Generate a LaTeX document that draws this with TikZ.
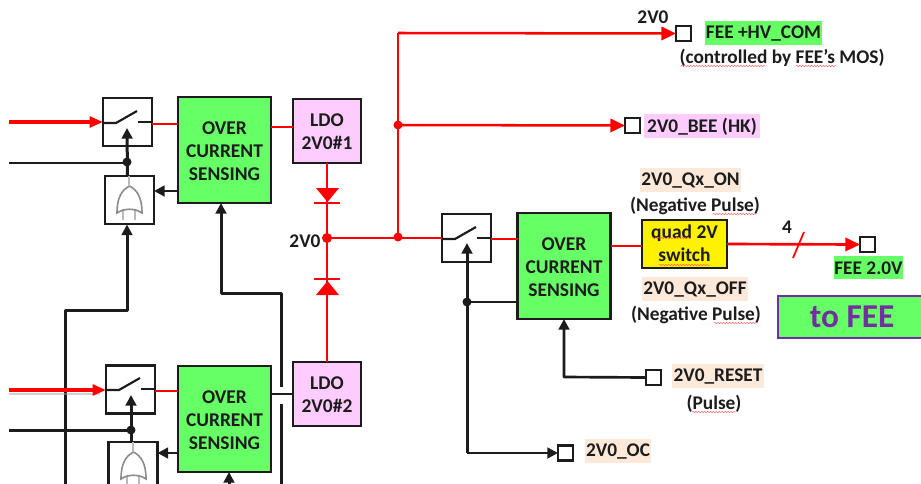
\documentclass[tikz,border=0pt]{standalone}
\usepackage{fontspec}
\setmainfont{Carlito}
\usetikzlibrary{arrows.meta,decorations.pathmorphing}
\definecolor{ocgreen}{HTML}{66FF66}
\definecolor{ldopink}{HTML}{FFCCFF}
\definecolor{peach}{HTML}{FDE9D9}
\definecolor{inkc}{HTML}{1C1C1C}
\definecolor{purp}{HTML}{7030A0}
\definecolor{gatec}{HTML}{8C8C8C}
\tikzset{
  x=0.75pt,y=-0.75pt,
  sz/.style 2 args={minimum width=#1*0.75pt,minimum height=#2*0.75pt,inner sep=0pt,outer sep=0pt},
  lbl/.style={font=\bfseries\fontsize{14.5}{17.2}\selectfont,text=inkc,inner sep=0pt,align=center},
  boxtext/.style={font=\bfseries\fontsize{14.6}{17.4}\selectfont,text=inkc,align=center},
  swbox/.style={draw=inkc,line width=2.1pt,fill=white,sz={49}{48}},
  orbox/.style={draw=inkc,line width=2.1pt,fill=white,sz={49}{48}},
  ocbox/.style={draw=inkc,line width=2.2pt,fill=ocgreen,sz={93}{106},boxtext},
  ldobox/.style={draw=inkc,line width=2.1pt,fill=ldopink,sz={68}{64},boxtext},
  pad/.style={draw=inkc,line width=2.2pt,fill=white,sz={15}{15}},
  redw/.style={draw=red,line width=1.9pt},
  redin/.style={draw=red,line width=2.7pt,-{Triangle[length=10pt,width=8pt]}},
  reda/.style={draw=red,line width=1.9pt,-{Triangle[length=11pt,width=10pt]}},
  blk/.style={draw=inkc,line width=2.25pt,line join=round},
  blkt/.style={draw=inkc,line width=2pt,line join=round},
  blka/.style={-{Triangle[length=8pt,width=8pt]}},
  contact/.style={draw=inkc,line width=1.6pt},
  rdot/.style={circle,fill=red,sz={10}{10}},
  kdot/.style={circle,fill=inkc,sz={9}{9}},
  gate/.style={draw=gatec,line width=1.2pt},
  leg/.style={draw=gatec!60,line width=1.1pt},
  squig/.style={draw=red!65,line width=0.35pt,decorate,decoration={snake,amplitude=0.45pt,segment length=2.2pt}},
}
\newcommand{\lowered}[2]{\raisebox{-#1}[\height][\depth]{\begin{tabular}{@{}c@{}}#2\end{tabular}}}
\begin{document}
\begin{tikzpicture}
\clip (0,0) rectangle (921,483);
\fill[white] (0,0) rectangle (921,483);
% label backgrounds
\fill[ocgreen] (705,21) rectangle (822,45);
\fill[ldopink] (644,114) rectangle (760,138);
\fill[peach] (640,168) rectangle (741,192);
\fill[peach] (642,277) rectangle (748,301);
\fill[peach] (672,364) rectangle (764,388);
\fill[peach] (585,439) rectangle (651,463);
\fill[ocgreen] (834,256) rectangle (903,279);
% free ends and routing points
\coordinate (inA) at (9,122);
\coordinate (inB) at (9,390);
\coordinate (ctlA) at (9,163);
\coordinate (ctlB) at (9,430);
\coordinate (busT) at (398,33);
\coordinate (busB) at (398,125);
% boxes
\node[swbox] (sw1) at (127.5,122) {};
\node[swbox] (sw2) at (130.5,389.5) {};
\node[swbox] (sw3) at (466.5,238) {};
\node[orbox] (or1) at (129.5,200) {};
\node[orbox] (or2) at (133,466) {};
\node[ocbox] (oc1) at (224.5,150) {\lowered{2.2pt}{OVER\\CURRENT\\SENSING}};
\node[ocbox] (oc2) at (224.5,419) {\lowered{2.2pt}{OVER\\CURRENT\\SENSING}};
\node[ocbox] (oc3) at (564,266) {\lowered{2.2pt}{OVER\\CURRENT\\SENSING}};
\node[ldobox] (ldo1) at (327,131) {\lowered{2pt}{LDO\\2V0\#1}};
\node[ldobox] (ldo2) at (327,394) {\lowered{2pt}{LDO\\2V0\#2}};
\node[draw=inkc,line width=2.1pt,fill=yellow,sz={85}{48},boxtext] (quad) at (684.5,244) {\lowered{1.2pt}{quad 2V\\switch}};
\node[pad] (pTop) at (683.5,33.5) {};
\node[pad] (pBee) at (632.5,125.5) {};
\node[pad] (pFee) at (867.5,244.5) {};
\node[pad] (pRes) at (653.5,377.5) {};
\node[pad] (pOc) at (565.5,453) {};
\node[draw=purp,line width=1.6pt,fill=ocgreen,sz={147}{42},font=\bfseries\fontsize{25}{27}\selectfont,text=purp] (toFee) at (851.5,317) {\hspace*{1pt}to FEE};
% OR gates
\foreach \dx/\dy in {0/0,4/266}{
  \begin{scope}[shift={(\dx*0.75pt,-\dy*0.75pt)}]
    \draw[leg] (123,209) -- (123,220) (135,209) -- (135,220);
    \draw[gate] (129.5,186) .. controls (137,190) and (142,197) .. (142,213)
      .. controls (135,208) and (124,208) .. (117,213)
      .. controls (117,197) and (122,190) .. (129.5,186);
    \draw[leg] (129,176) -- (129,186);
  \end{scope}
}
% control lines, black
\draw[blk,blka] (or1.north -| sw1) -- (127,128);
\draw[blkt] (ctlA) -- (127,163);
\node[kdot] (dA) at (127,162) {};
\draw[blk,blka] (65,490) -- (65,310) -- (127,310) -- (127,224.5);
\draw[blk,blka] (281,387) -- (281,293) -- (221,293) -- (oc1.south -| 221,0);
\draw[blk] (281,404) -- (281,490);
\draw[blkt] (oc2.east |- ldo2) -- (ldo2.west);
\draw[blkt,blka] (oc1.west |- 0,191) -- (or1.east |- 0,191);
\draw[blkt,blka] (oc2.west |- 0,453) -- (or2.east |- 0,453);
\draw[blk,blka] (131,442) -- (131,395);
\draw[blk] (ctlB) -- (131,430);
\node[kdot] (dB) at (131,430) {};
\draw[blk,blka] (229,490) -- (oc2.south -| 229,0);
\draw[blk,blka] (467,453) -- (467,243);
\draw[blkt,blka] (467,453) -- (pOc.west);
\draw[blkt] (oc3.west |- 0,302) -- (467,302);
\node[kdot] (dC) at (467,302) {};
\draw[blkt,blka] (pRes.west) -- (564,377) -- (oc3.south -| 564,0);
% red power lines
\draw[draw=black!35,line width=2pt,opacity=.5] (9,394) -- (100,394);
\draw[redin] (inA) -- (sw1.west |- inA);
\draw[redin] (inB) -- (sw2.west |- inB);
\draw[redw] (sw1.east |- 0,124) -- (oc1.west |- 0,124);
\draw[redw] (sw2.east |- 0,391) -- (oc2.west |- 0,391);
\draw[redw] (sw3.east |- 0,239) -- (oc3.west |- 0,239);
\draw[redw] (oc1.east |- 0,127) -- (ldo1.west |- 0,127);
\draw[redw] (oc3.east |- 0,246) -- (quad.west |- 0,246);
\draw[redw] (ldo1.south) -- (ldo2.north);
\draw[redw] (327,238) -- (sw3.west);
\draw[redw] (busT) -- (398,238);
\draw[reda] (busT) -- (pTop.west);
\draw[reda] (busB) -- (pBee.west);
\draw[reda,line width=2pt] (quad.east) -- (pFee.west);
\draw[draw=red,line width=1.3pt] (793,258) -- (804,232);
\node[rdot] (dJ) at (327,238) {};
\node[rdot,sz={9}{9}] (dK) at (398,237) {};
\node[rdot,sz={9}{9}] (dL) at (398,125) {};
% diodes
\fill[red] (316,188) -- (339,188) -- (327.5,202) -- cycle;
\draw[redw] (314,203) -- (340,203);
\fill[red] (316,295) -- (339,295) -- (327.5,281) -- cycle;
\draw[redw] (314,279) -- (340,279);
% switch glyphs
\foreach \n/\dx/\dy in {1/0/0,2/3/267,3/339/116}{
  \draw[contact] (103+\dx,123+\dy) -- (116+\dx,123+\dy) -- (137+\dx,111+\dy);
  \draw[contact] (138+\dx,122+\dy) -- (152+\dx,122+\dy);
}
% labels
\node[lbl] (t1) at (653,17) {2V0};
\node[lbl] (t2) at (763.5,34) {FEE +HV\_COM};
\node[lbl] (t3) at (782,58) {(controlled by FEE’s MOS)};
\node[lbl] (t4) at (702,127) {2V0\_BEE (HK)};
\node[lbl] (t5) at (690.5,181) {2V0\_Qx\_ON};
\node[lbl] (t6) at (695,206) {(Negative Pulse)};
\node[lbl] (t7) at (695,290) {2V0\_Qx\_OFF};
\node[lbl] (t8) at (696,315) {(Negative Pulse)};
\node[lbl] (t9) at (718,377) {2V0\_RESET};
\node[lbl] (t10) at (714,404) {(Pulse)};
\node[lbl] (t11) at (618,452) {2V0\_OC};
\node[lbl] (t12) at (305,241) {2V0};
\node[lbl] (t13) at (787,227) {4};
\node[lbl] (t14) at (868.5,268.5) {FEE 2.0V};
% spell-check marks
\draw[squig] (681,66) -- (765,66);
\draw[squig] (796,66) -- (836,66);
\draw[squig] (713,214) -- (756,214);
\draw[squig] (714,323) -- (757,323);
\draw[squig] (692,412) -- (736,412);
\draw[squig] (652,238) -- (691,238);
\draw[squig] (659,265) -- (710,265);
\end{tikzpicture}
\end{document}
